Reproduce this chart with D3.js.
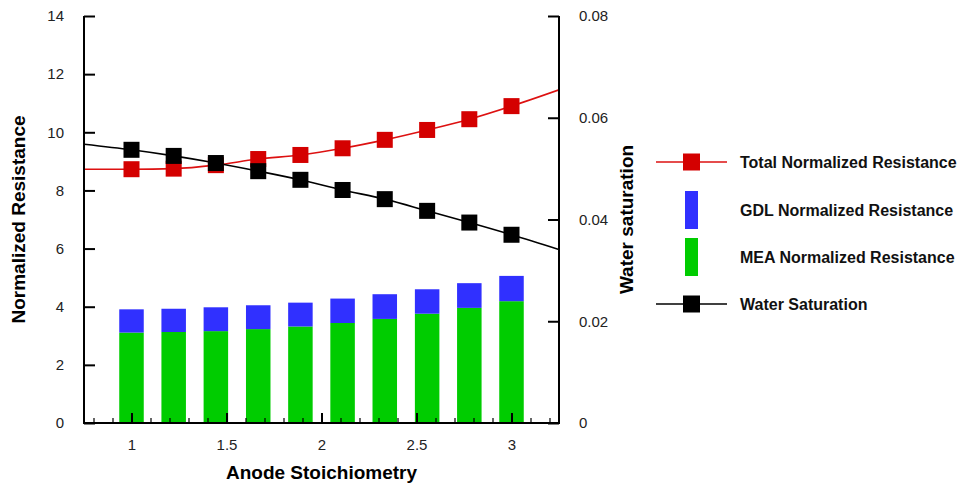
<!DOCTYPE html>
<html>
<head>
<meta charset="utf-8">
<script src="https://cdn.jsdelivr.net/npm/d3@7"></script>
<style>
  body { margin: 0; background: #fff; }
  text { font-family: "Liberation Sans", Arial, sans-serif; }
</style>
</head>
<body>
<div id="chart"></div>
<script>
// stoichiometry points
const stoich = [1, 1.222, 1.444, 1.667, 1.889, 2.111, 2.333, 2.556, 2.778, 3];
const meaRes = [3.11, 3.13, 3.16, 3.23, 3.32, 3.44, 3.58, 3.76, 3.96, 4.19];
const gdlRes = [0.80, 0.80, 0.82, 0.82, 0.82, 0.84, 0.85, 0.84, 0.85, 0.87];
const totalRes = [8.73, 8.75, 8.87, 9.08, 9.22, 9.45, 9.74, 10.08, 10.45, 10.9];
const waterSat = [0.0537, 0.0525, 0.0511, 0.0495, 0.0478, 0.0458, 0.0440, 0.0417, 0.0394, 0.0370];
// where the curves leave the plot at both edges
const edgeX = [0.75, 3.25];
const totalEdge = [8.73, 11.46];
const waterEdge = [0.0548, 0.0341];

const leftTicks = [0, 2, 4, 6, 8, 10, 12, 14];
const rightTicks = [0, 0.02, 0.04, 0.06, 0.08];
const xTicks = [1, 1.5, 2, 2.5, 3];

const legendItems = ["Total Normalized Resistance", "GDL Normalized Resistance", "MEA Normalized Resistance", "Water Saturation"];

const W = 959, H = 487;
const margin = { top: 16, left: 84, right: 400, bottom: 64 };
const width = W - margin.left - margin.right,
  height = H - margin.top - margin.bottom;

const svg = d3.select("#chart").append("svg")
  .attr("width", W).attr("height", H);
const g = svg.append("g")
  .attr("transform", "translate(" + margin.left + "," + margin.top + ")");

const x = d3.scaleLinear().domain([0.75, 3.25]).range([0, width]);
const y = d3.scaleLinear().domain([0, 14]).range([height, 0]);
const y2 = d3.scaleLinear().domain([0, 0.08]).range([height, 0]);

g.append("defs").append("clipPath").attr("id", "clip")
  .append("rect").attr("width", width).attr("height", height);

// bars
const barW = x(0.879) - x(0.75);
const bars = g.append("g");
bars.selectAll(".mea").data(stoich).enter().append("rect")
  .attr("x", (d) => x(d) - barW / 2)
  .attr("y", (d, i) => y(meaRes[i]))
  .attr("width", barW)
  .attr("height", (d, i) => y(0) - y(meaRes[i]))
  .attr("fill", "#00cc00");
bars.selectAll(".gdl").data(stoich).enter().append("rect")
  .attr("x", (d) => x(d) - barW / 2)
  .attr("y", (d, i) => y(meaRes[i] + gdlRes[i]))
  .attr("width", barW)
  .attr("height", (d, i) => y(meaRes[i]) - y(meaRes[i] + gdlRes[i]))
  .attr("fill", "#3030ff");

// curves
const totalPts = [[edgeX[0], totalEdge[0]]].concat(stoich.map((d, i) => [d, totalRes[i]]), [[edgeX[1], totalEdge[1]]]);
const waterPts = [[edgeX[0], waterEdge[0]]].concat(stoich.map((d, i) => [d, waterSat[i]]), [[edgeX[1], waterEdge[1]]]);

const lines = g.append("g").attr("clip-path", "url(#clip)");
lines.append("path").datum(totalPts)
  .attr("d", d3.line().x((d) => x(d[0])).y((d) => y(d[1])).curve(d3.curveMonotoneX))
  .attr("fill", "none").attr("stroke", "#dd1111").attr("stroke-width", 1.6);

const ms = 16;
g.selectAll(".tot").data(stoich).enter().append("rect")
  .attr("x", (d) => x(d) - ms / 2)
  .attr("y", (d, i) => y(totalRes[i]) - ms / 2)
  .attr("width", ms).attr("height", ms)
  .attr("fill", "#d40000");

lines.append("path").datum(waterPts)
  .attr("d", d3.line().x((d) => x(d[0])).y((d) => y2(d[1])).curve(d3.curveMonotoneX))
  .attr("fill", "none").attr("stroke", "#000").attr("stroke-width", 1.6);

g.selectAll(".ws").data(stoich).enter().append("rect")
  .attr("x", (d) => x(d) - ms / 2)
  .attr("y", (d, i) => y2(waterSat[i]) - ms / 2)
  .attr("width", ms).attr("height", ms)
  .attr("fill", "#000");

// axes
function styleAxis(sel) {
  sel.select(".domain").remove();
  sel.selectAll(".tick line").attr("stroke", "#000").attr("stroke-width", 2);
  sel.selectAll(".tick text").attr("fill", "#222")
    .style("font-size", "15px");
}

const axL = g.append("g")
  .call(d3.axisLeft(y).tickValues(leftTicks).tickSize(-11).tickPadding(20).tickFormat(d3.format("d")));
styleAxis(axL);

const axR = g.append("g").attr("transform", "translate(" + width + ",0)")
  .call(d3.axisRight(y2).tickValues(rightTicks).tickSize(-11).tickPadding(20)
    .tickFormat((d) => (d === 0 ? "0" : d3.format(".2f")(d))));
styleAxis(axR);

const minor = d3.range(8, 33).map((d) => d / 10).filter((d) => xTicks.indexOf(d) < 0);
const axMinor = g.append("g").attr("transform", "translate(0," + height + ")")
  .call(d3.axisBottom(x).tickValues(minor).tickSize(-5).tickFormat(""));
styleAxis(axMinor);
axMinor.selectAll(".tick line").attr("stroke-width", 1.2);

const axB = g.append("g").attr("transform", "translate(0," + height + ")")
  .call(d3.axisBottom(x).tickValues(xTicks).tickSize(-10).tickPadding(16).tickFormat(d3.format("")));
styleAxis(axB);

// axis lines
g.append("path")
  .attr("d", "M0,0V" + height + "H" + width + "V0")
  .attr("fill", "none").attr("stroke", "#000").attr("stroke-width", 2);

// titles
g.append("text")
  .attr("transform", "translate(" + (18 - margin.left) + "," + height / 2 + ") rotate(-90)")
  .attr("text-anchor", "middle").attr("dy", "0.35em")
  .style("font-size", "19px").style("font-weight", "bold")
  .text("Normalized Resistance");

g.append("text")
  .attr("transform", "translate(" + (626 - margin.left) + "," + height / 2 + ") rotate(-90)")
  .attr("text-anchor", "middle").attr("dy", "0.35em")
  .style("font-size", "19px").style("font-weight", "bold")
  .text("Water saturation");

g.append("text")
  .attr("x", x(2)).attr("y", 479 - margin.top)
  .attr("text-anchor", "middle")
  .style("font-size", "19px").style("font-weight", "bold")
  .text("Anode Stoichiometry");

// legend
const leg = svg.append("g");
const legY = [162, 210, 257, 304];
leg.append("line").attr("x1", 656).attr("x2", 727).attr("y1", legY[0]).attr("y2", legY[0])
  .attr("stroke", "#dd1111").attr("stroke-width", 1.6);
leg.append("rect").attr("x", 683).attr("y", legY[0] - 8.5).attr("width", 17).attr("height", 17).attr("fill", "#d40000");
leg.append("rect").attr("x", 685).attr("y", 191).attr("width", 13).attr("height", 38).attr("fill", "#3030ff");
leg.append("rect").attr("x", 685).attr("y", 238).attr("width", 13).attr("height", 38).attr("fill", "#00cc00");
leg.append("line").attr("x1", 656).attr("x2", 727).attr("y1", legY[3]).attr("y2", legY[3])
  .attr("stroke", "#000").attr("stroke-width", 1.6);
leg.append("rect").attr("x", 683).attr("y", legY[3] - 8.5).attr("width", 17).attr("height", 17).attr("fill", "#000");

leg.selectAll(".lt").data(legendItems).enter().append("text")
  .attr("x", 740).attr("y", (d, i) => legY[i])
  .attr("dy", "0.35em")
  .style("font-size", "16px").style("font-weight", "bold")
  .attr("fill", "#111")
  .text((d) => d);
</script>
</body>
</html>
